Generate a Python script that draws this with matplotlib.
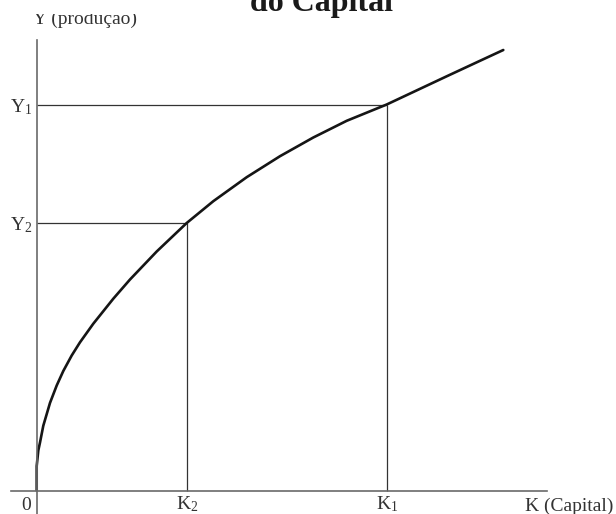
import matplotlib
matplotlib.use("Agg")
import matplotlib.pyplot as plt
from matplotlib.transforms import Bbox, TransformedBbox

plt.rcParams['font.family'] = ['Liberation Serif', 'DejaVu Serif']
plt.rcParams['mathtext.fontset'] = 'custom'
plt.rcParams['mathtext.rm'] = 'Liberation Serif'
plt.rcParams['mathtext.it'] = 'Liberation Serif:italic'

# Production curve (arbitrary units)
capital = [0, 0, 1.6, 3.3, 6.6, 13.3, 20, 26.6, 35, 43.3, 56.6, 76.6, 93.3,
           120, 150, 176.6, 210, 243.3, 276.6, 310, 350, 376.6, 410,
           443.3, 466.6]
output = [0, 24.5, 40, 48, 64.8, 87.6, 105, 119.5, 135, 148.2, 166.8,
          191.8, 211, 239, 267.5, 289.3, 313.3, 334.3, 353, 369.7, 386,
          398.5, 414.2, 429.7, 440.5]

k_ticks = [150, 350]
k_labels = [r'$\mathregular{K_2}$', r'$\mathregular{K_1}$']
y_ticks = [267.5, 386]
y_labels = [r'$\mathregular{Y_2}$', r'$\mathregular{Y_1}$']

fig = plt.figure(figsize=(6.16, 5.14), dpi=100)
ax = fig.add_axes([0, 0, 1, 1])
ax.set_xlim(-36.7, 579.3)
ax.set_ylim(-23.5, 490.5)

for s in ['top', 'right']:
    ax.spines[s].set_visible(False)
axis_col = '#6a6a6a'
ax.spines['left'].set_position(('data', 0))
ax.spines['bottom'].set_position(('data', 0))
ax.spines['left'].set_bounds(-23.5, 450.5)
ax.spines['bottom'].set_bounds(-26, 510)
for s in ['left', 'bottom']:
    ax.spines[s].set_color(axis_col)
    ax.spines[s].set_linewidth(1.2)

# guide lines
guide_col = '#333333'
ax.hlines(y_ticks, 0, k_ticks, color=guide_col, lw=0.9)
ax.vlines(k_ticks, 0, y_ticks, color=guide_col, lw=0.9)

ax.plot(capital, output, color='#151515', lw=1.9, solid_capstyle='round',
        solid_joinstyle='round')

ax.set_xticks(k_ticks)
ax.set_xticklabels(k_labels, fontsize=14, color='#333333')
ax.set_yticks(y_ticks)
ax.set_yticklabels(y_labels, fontsize=14, color='#333333')
ax.tick_params(axis='x', length=0, pad=3)
ax.tick_params(axis='y', length=0, pad=3)

ax.text(-6, -6, '0', ha='right', va='top', fontsize=14, color='#333333')
ax.text(488, -7, 'K (Capital)', ha='left', va='top', fontsize=14,
        color='#333333')

t = fig.text(33 / 616, 1 - 24 / 514, 'Y (produção)', ha='left',
             va='baseline', fontsize=14, color='#333333')
t.set_clip_box(TransformedBbox(Bbox([[0, 0], [1, 1 - 14 / 514]]),
                               fig.transFigure))
t.set_clip_on(True)

fig.text(321 / 616, 1 - 11.5 / 514, 'do Capital', ha='center',
         va='baseline', fontsize=23, fontweight='bold', color='#1a1a1a')

fig.savefig('out.png', dpi=100, facecolor='white')
